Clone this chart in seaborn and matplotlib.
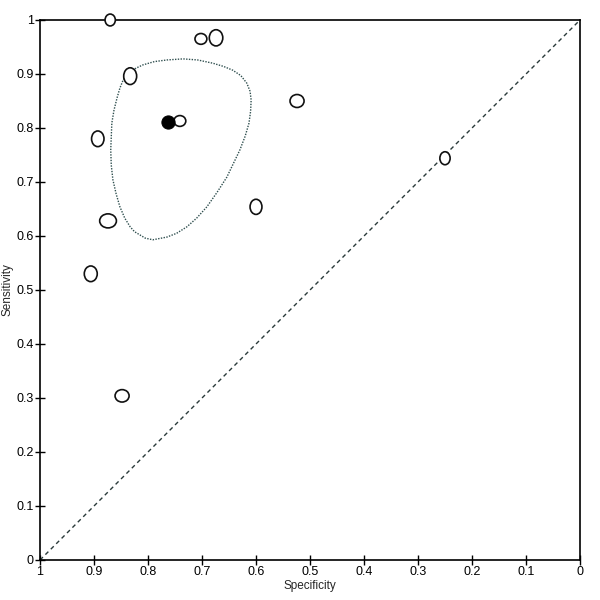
import matplotlib
matplotlib.use("Agg")
import matplotlib.pyplot as plt
from matplotlib.patches import Ellipse
import seaborn as sns
import pandas as pd

# Study estimates (specificity, sensitivity) and ellipse sizes (in axis units)
study_spec = [0.870, 0.702, 0.674, 0.833, 0.524, 0.741, 0.893, 0.250, 0.600, 0.874, 0.906, 0.848]
study_sens = [1.000, 0.965, 0.967, 0.896, 0.850, 0.813, 0.780, 0.744, 0.654, 0.628, 0.530, 0.304]
study_w = [0.019, 0.022, 0.025, 0.024, 0.026, 0.022, 0.023, 0.019, 0.022, 0.031, 0.024, 0.026]
study_h = [0.022, 0.020, 0.030, 0.031, 0.024, 0.020, 0.029, 0.024, 0.028, 0.026, 0.029, 0.023]

# Summary point
summary_spec = [0.763]
summary_sens = [0.811]

# 95% confidence region
region_spec = [0.833, 0.822, 0.809, 0.788, 0.765, 0.735, 0.708, 0.680, 0.660, 0.643, 0.628,
               0.617, 0.611, 0.609, 0.610, 0.613, 0.620, 0.630, 0.642, 0.654, 0.672, 0.691,
               0.710, 0.728, 0.747, 0.765, 0.791, 0.805, 0.815, 0.825, 0.833, 0.843, 0.852,
               0.859, 0.865, 0.868, 0.869, 0.868, 0.867, 0.863, 0.857, 0.852, 0.846, 0.840,
               0.833]
region_sens = [0.904, 0.911, 0.917, 0.923, 0.926, 0.928, 0.926, 0.920, 0.914, 0.907, 0.897,
               0.883, 0.868, 0.852, 0.831, 0.809, 0.785, 0.759, 0.734, 0.709, 0.681, 0.654,
               0.633, 0.617, 0.605, 0.598, 0.593, 0.596, 0.602, 0.608, 0.617, 0.633, 0.654,
               0.678, 0.704, 0.731, 0.759, 0.784, 0.809, 0.833, 0.857, 0.874, 0.889, 0.898,
               0.904]

ticks = [0, 0.1, 0.2, 0.3, 0.4, 0.5, 0.6, 0.7, 0.8, 0.9, 1]
tick_labels = ["0", "0.1", "0.2", "0.3", "0.4", "0.5", "0.6", "0.7", "0.8", "0.9", "1"]

sns.set_style("white")
plt.rcParams["font.family"] = ["Liberation Sans", "DejaVu Sans"]

fig = plt.figure(figsize=(6, 6), dpi=100)
ax = fig.add_axes([40 / 600, 40 / 600, 540 / 600, 540 / 600])

# diagonal
diag = pd.DataFrame({"spec": [1, 0], "sens": [0, 1]})
sns.lineplot(data=diag, x="spec", y="sens", ax=ax, color="#2a3a3a", linestyle=(0, (3, 2.5)),
             linewidth=1.0, sort=False, estimator=None)

# confidence region
reg = pd.DataFrame({"spec": region_spec, "sens": region_sens})
sns.lineplot(data=reg, x="spec", y="sens", ax=ax, color="#2f4f4f", linestyle=(0, (1, 1)),
             linewidth=1.0, sort=False, estimator=None)

# studies
for sx, sy, w, h in zip(study_spec, study_sens, study_w, study_h):
    e = Ellipse((sx, sy), w, h, facecolor="white", edgecolor="#111111", linewidth=1.2,
                clip_on=False, zorder=3)
    ax.add_patch(e)

# summary point
summ = pd.DataFrame({"spec": summary_spec, "sens": summary_sens})
sns.scatterplot(data=summ, x="spec", y="sens", ax=ax, color="black", s=90, edgecolor="black",
                zorder=4, clip_on=False)

ax.set_xlim(1, 0)
ax.set_ylim(0, 1)
ax.set_xticks(ticks)
ax.set_xticklabels(tick_labels)
ax.set_yticks(ticks)
ax.set_yticklabels(tick_labels)
ax.tick_params(bottom=True, left=True, direction="inout", length=7, width=1, colors="black",
               labelsize=9, pad=1)
for sp in ax.spines.values():
    sp.set_visible(True)
    sp.set_color("black")
    sp.set_linewidth(1.2)
ax.set_xlabel("Specificity", fontsize=8.5, labelpad=1)
ax.set_ylabel("Sensitivity", fontsize=8.5, labelpad=2)

fig.savefig("out.png", dpi=100, facecolor="white")
